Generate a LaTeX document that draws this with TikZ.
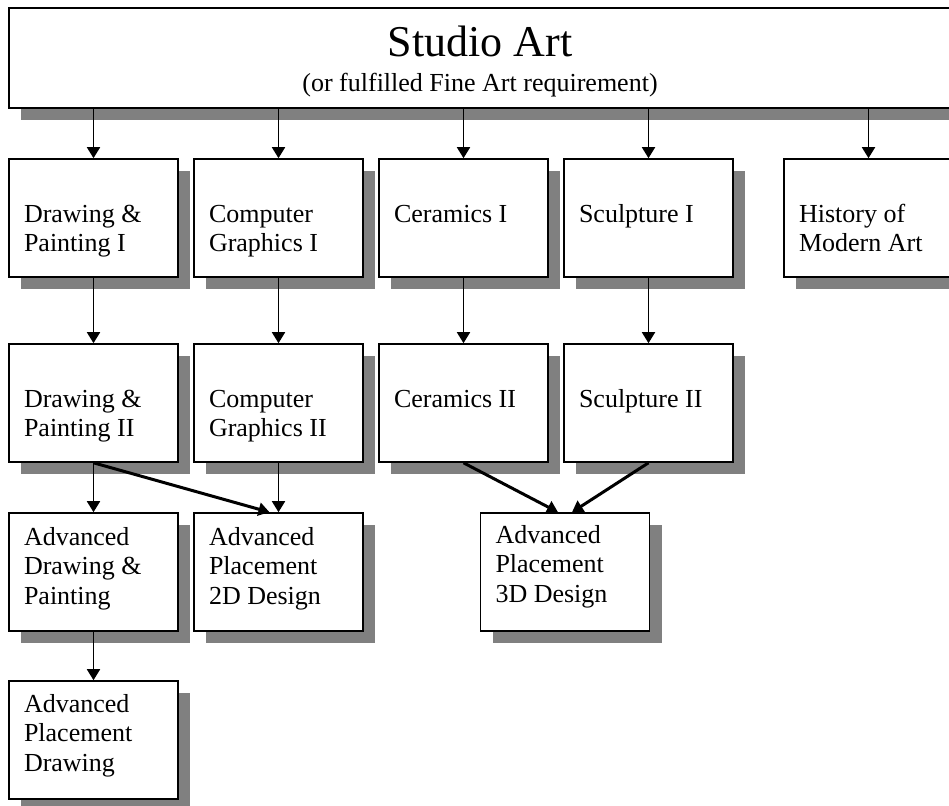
\documentclass[tikz,border=0pt]{standalone}
\usepackage{fontspec}
\setmainfont{Liberation Serif}
\usetikzlibrary{shadows,arrows.meta}
\newcommand\bxt[2]{\parbox[c][118pt][t]{139pt}{\rule{0pt}{#1}#2}}
\begin{document}
\begin{tikzpicture}[x=1pt,y=-1pt,
  box/.style={draw=black,line width=1.6pt,fill=white,inner xsep=15pt,inner ysep=0pt,
    drop shadow={shadow xshift=12pt,shadow yshift=-12pt,fill=black!50,opacity=1},
    font=\fontsize{26}{29.5}\selectfont},
  arr/.style={line width=1.8pt,-{Triangle[width=13pt,length=11pt]}},
  thickarr/.style={line width=3pt,-{Triangle[width=13pt,length=11pt]}}]
\useasboundingbox (0,0) rectangle (949,805);
% top box
\node[box,inner xsep=0pt] (top) at (480,58) {\parbox[c][100pt][t]{942pt}{\centering\fontsize{44}{44}\selectfont\rule{0pt}{49pt}Studio Art\par\fontsize{26}{35}\selectfont (or fulfilled Fine Art requirement)\par}};
% row 1
\node[box] (dp1) at (93.5,218) {\bxt{63pt}{Drawing \&\\Painting I}};
\node[box] (cg1) at (278.5,218) {\bxt{63pt}{Computer\\Graphics I}};
\node[box] (c1) at (463.5,218) {\bxt{63pt}{Ceramics I}};
\node[box] (s1) at (648.5,218) {\bxt{63pt}{Sculpture I}};
\node[box] (h) at (868.5,218) {\bxt{63pt}{History of\\Modern Art}};
% row 2
\node[box] (dp2) at (93.5,403) {\bxt{63pt}{Drawing \&\\Painting II}};
\node[box] (cg2) at (278.5,403) {\bxt{63pt}{Computer\\Graphics II}};
\node[box] (c2) at (463.5,403) {\bxt{63pt}{Ceramics II}};
\node[box] (s2) at (648.5,403) {\bxt{63pt}{Sculpture II}};
% row 3
\node[box] (adp) at (93.5,572) {\bxt{32pt}{Advanced\\Drawing \&\\Painting}};
\node[box] (ap2) at (278.5,572) {\bxt{32pt}{Advanced\\Placement\\2D Design}};
\node[box] (ap3) at (565,572) {\bxt{30pt}{Advanced\\Placement\\3D Design}};
% row 4
\node[box] (apd) at (93.5,740) {\bxt{31pt}{Advanced\\Placement\\Drawing}};
% arrows from top
\foreach \n in {dp1,cg1,c1,s1,h}
  \draw[arr] (\n.north |- top.south) -- (\n.north);
\draw[arr] (dp1) -- (dp2);
\draw[arr] (cg1) -- (cg2);
\draw[arr] (c1) -- (c2);
\draw[arr] (s1) -- (s2);
\draw[arr] (dp2) -- (adp);
\draw[arr] (cg2) -- (ap2);
\draw[thickarr] (dp2.south) -- ([xshift=-9pt]ap2.north);
\draw[thickarr] (c2.south) -- ([xshift=-7pt]ap3.north);
\draw[thickarr] (s2.south) -- ([xshift=7pt]ap3.north);
\draw[arr] (adp) -- (apd);
\end{tikzpicture}
\end{document}
